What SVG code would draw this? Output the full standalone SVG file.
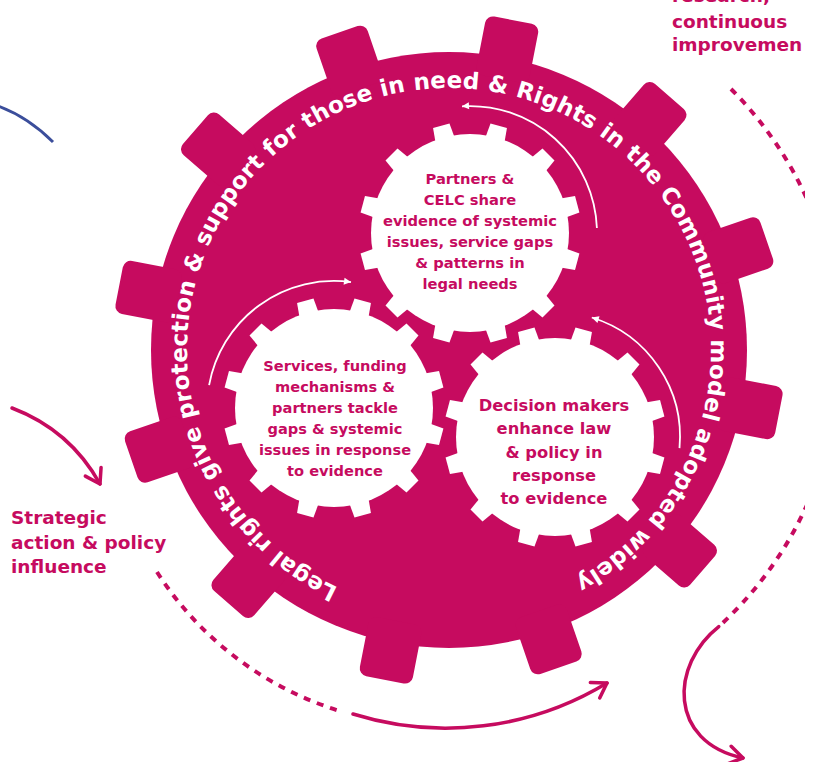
<svg xmlns="http://www.w3.org/2000/svg" width="816" height="762" viewBox="0 0 816 762">
<style>
.mag{fill:#C60B5F}
.wht{fill:#FFFFFF}
.lbl{font-family:"DejaVu Sans","Liberation Sans",sans-serif;font-weight:bold;fill:#C60B5F;font-size:18.5px}
.gt{font-family:"DejaVu Sans","Liberation Sans",sans-serif;font-weight:bold;fill:#C60B5F;text-anchor:middle}
.p{font-size:14.7px}
.s{font-size:14.6px}
.d{font-size:16.3px}
.ring{font-family:"DejaVu Sans","Liberation Sans",sans-serif;font-weight:bold;fill:#FFFFFF;font-size:23px}
.arrow{fill:none;stroke:#C60B5F;stroke-width:3.5;stroke-linecap:round}
.dash{fill:none;stroke:#C60B5F;stroke-width:4;stroke-dasharray:7 7}
.thin{fill:none;stroke:#FFFFFF;stroke-width:1.8}
.blue{fill:none;stroke:#3B4E9B;stroke-width:3}
</style>
<defs>
<rect id="bt" x="-27" y="-336" width="54" height="60" rx="8"/>
<path id="wt" d="M-10,-95 L-8.5,-111 L8.5,-111 L10,-95 Z"/>
<marker id="ah" markerUnits="userSpaceOnUse" markerWidth="30" markerHeight="30" refX="0" refY="0" orient="auto" overflow="visible">
<path d="M-14,-9 L0,0 L-14,9" fill="none" stroke="#C60B5F" stroke-width="3.5" stroke-linecap="round" stroke-linejoin="round"/>
</marker>
<marker id="wh" markerUnits="userSpaceOnUse" markerWidth="10" markerHeight="10" refX="0" refY="0" orient="auto" overflow="visible">
<path d="M-7,-3.5 L0,0 L-7,3.5 Z" fill="#FFFFFF"/>
</marker>
<path id="ringpath" d="M338.3,587.5 A262,262 0 1 1 559.7,112.5 A262,262 0 1 1 338.3,587.5"/>
<clipPath id="clipR"><rect x="0" y="0" width="805" height="762"/></clipPath>
</defs>

<g id="big-gear">
<circle class="mag" cx="449" cy="350" r="298"/>
<g class="mag" transform="translate(449,350)">
<use href="#bt" transform="rotate(11)"/>
<use href="#bt" transform="rotate(41)"/>
<use href="#bt" transform="rotate(71)"/>
<use href="#bt" transform="rotate(101)"/>
<use href="#bt" transform="rotate(131)"/>
<use href="#bt" transform="rotate(161)"/>
<use href="#bt" transform="rotate(191)"/>
<use href="#bt" transform="rotate(221)"/>
<use href="#bt" transform="rotate(251)"/>
<use href="#bt" transform="rotate(281)"/>
<use href="#bt" transform="rotate(311)"/>
<use href="#bt" transform="rotate(341)"/>
</g>
<text class="ring"><textPath href="#ringpath" textLength="1400" lengthAdjust="spacing">Legal rights give protection &amp; support for those in need &amp; Rights in the Community model adopted widely</textPath></text>
</g>

<g id="gear-partners">
<circle class="wht" cx="470" cy="233" r="99"/>
<g class="wht" transform="translate(470,233)">
<use href="#wt" transform="rotate(15)"/><use href="#wt" transform="rotate(45)"/><use href="#wt" transform="rotate(75)"/>
<use href="#wt" transform="rotate(105)"/><use href="#wt" transform="rotate(135)"/><use href="#wt" transform="rotate(165)"/>
<use href="#wt" transform="rotate(195)"/><use href="#wt" transform="rotate(225)"/><use href="#wt" transform="rotate(255)"/>
<use href="#wt" transform="rotate(285)"/><use href="#wt" transform="rotate(315)"/><use href="#wt" transform="rotate(345)"/>
</g>
<text class="gt p" x="470" y="184">Partners &amp;</text>
<text class="gt p" x="470" y="205">CELC share</text>
<text class="gt p" x="470" y="226">evidence of systemic</text>
<text class="gt p" x="470" y="247">issues, service gaps</text>
<text class="gt p" x="470" y="268">&amp; patterns in</text>
<text class="gt p" x="470" y="289">legal needs</text>
</g>

<g id="gear-services">
<circle class="wht" cx="334" cy="408" r="99"/>
<g class="wht" transform="translate(334,408)">
<use href="#wt" transform="rotate(15)"/><use href="#wt" transform="rotate(45)"/><use href="#wt" transform="rotate(75)"/>
<use href="#wt" transform="rotate(105)"/><use href="#wt" transform="rotate(135)"/><use href="#wt" transform="rotate(165)"/>
<use href="#wt" transform="rotate(195)"/><use href="#wt" transform="rotate(225)"/><use href="#wt" transform="rotate(255)"/>
<use href="#wt" transform="rotate(285)"/><use href="#wt" transform="rotate(315)"/><use href="#wt" transform="rotate(345)"/>
</g>
<text class="gt s" x="335" y="371">Services, funding</text>
<text class="gt s" x="335" y="392">mechanisms &amp;</text>
<text class="gt s" x="335" y="413">partners tackle</text>
<text class="gt s" x="335" y="434">gaps &amp; systemic</text>
<text class="gt s" x="335" y="455">issues in response</text>
<text class="gt s" x="335" y="476">to evidence</text>
</g>

<g id="gear-decision">
<circle class="wht" cx="555" cy="437" r="99"/>
<g class="wht" transform="translate(555,437)">
<use href="#wt" transform="rotate(15)"/><use href="#wt" transform="rotate(45)"/><use href="#wt" transform="rotate(75)"/>
<use href="#wt" transform="rotate(105)"/><use href="#wt" transform="rotate(135)"/><use href="#wt" transform="rotate(165)"/>
<use href="#wt" transform="rotate(195)"/><use href="#wt" transform="rotate(225)"/><use href="#wt" transform="rotate(255)"/>
<use href="#wt" transform="rotate(285)"/><use href="#wt" transform="rotate(315)"/><use href="#wt" transform="rotate(345)"/>
</g>
<text class="gt d" x="554" y="411">Decision makers</text>
<text class="gt d" x="554" y="434">enhance law</text>
<text class="gt d" x="554" y="458">&amp; policy in</text>
<text class="gt d" x="554" y="481">response</text>
<text class="gt d" x="554" y="504">to evidence</text>
</g>

<g id="label-research">
<text class="lbl" x="672" y="2">research,</text>
<text class="lbl" x="672" y="28">continuous</text>
<text class="lbl" x="672" y="51">improvemen</text>
</g>

<g id="label-strategic">
<text class="lbl" x="11" y="524">Strategic</text>
<text class="lbl" x="11" y="548.5">action &amp; policy</text>
<text class="lbl" x="11" y="573">influence</text>
</g>

<g id="connectors">
<path class="blue" d="M-2,106 Q28,117 53,142"/>
<path class="arrow" d="M12,408 Q70,430 100,484" marker-end="url(#ah)"/>
<path class="dash" d="M157,572 A334,334 0 0 0 343,712"/>
<path class="arrow" d="M353,714 A311,311 0 0 0 607,683" marker-end="url(#ah)"/>
<path class="dash" d="M731,89 A372,372 0 0 1 718.8,626.6" clip-path="url(#clipR)"/>
<path class="arrow" d="M718.8,626.6 C670,665 668,742 743,758" marker-end="url(#ah)"/>
<path class="thin" d="M209.1,385.1 A127,127 0 0 1 351,282.1" marker-end="url(#wh)"/>
<path class="thin" d="M596.9,228 A127,127 0 0 0 462,106.3" marker-end="url(#wh)"/>
<path class="thin" d="M679.5,448.1 A125,125 0 0 0 591.8,317.5" marker-end="url(#wh)"/>
</g>
</svg>
